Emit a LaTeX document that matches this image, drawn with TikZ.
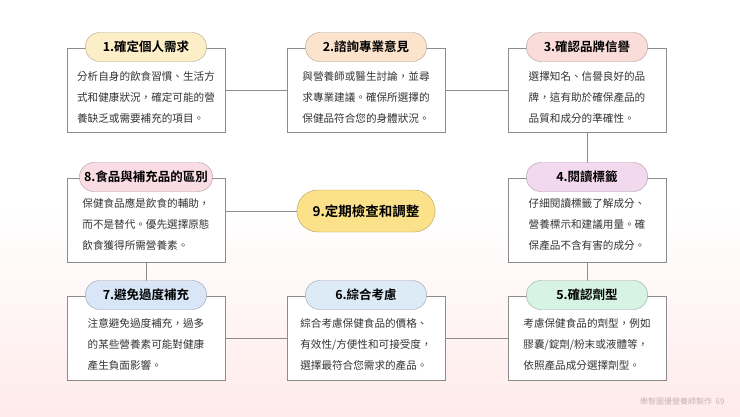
\documentclass[tikz,border=0pt]{standalone}
\usepackage{fontspec}
\setmainfont{Noto Sans CJK TC}[BoldFont={Noto Sans CJK TC Bold}]
\usetikzlibrary{shapes.misc}
\begin{document}
\begin{tikzpicture}[x=1pt,y=-1pt,
 box/.style={draw=black!45,fill=white,minimum width=158pt,minimum height=84pt,inner sep=0pt},
 body/.style={align=left,font=\fontsize{10.6}{21}\selectfont,text=black!80},
 head/.style={rounded rectangle,draw=#1!70!black,fill=#1,minimum width=128pt,minimum height=29pt,font=\fontsize{12.5}{14}\selectfont\bfseries},
 conn/.style={draw=black!45,line width=0.6pt}]
\shade[top color=white,bottom color=red!8!white,middle color=white] (0,0) rectangle (740,416);
\useasboundingbox (0,0) rectangle (740,416);
\definecolor{c1}{HTML}{FCEFC7}\definecolor{c2}{HTML}{FCE3CC}\definecolor{c3}{HTML}{FADCD9}
\definecolor{c4}{HTML}{F3D9EE}\definecolor{c5}{HTML}{D6F3E3}\definecolor{c6}{HTML}{DDEBF7}
\definecolor{c7}{HTML}{D8E6F8}\definecolor{c8}{HTML}{FADDE4}\definecolor{c9}{HTML}{FBE28A}
% boxes
\node[box] (b1) at (146,90) {};
\node[box] (b2) at (366,90) {};
\node[box] (b3) at (587,90) {};
\node[box] (b8) at (146,220) {};
\node[box] (b4) at (587,220) {};
\node[box] (b7) at (146,338) {};
\node[box] (b6) at (366,338) {};
\node[box] (b5) at (587,338) {};
% connectors
\draw[conn] (b1.east) -- (b2.west);
\draw[conn] (b2.east) -- (b3.west);
\draw[conn] (b3.south) -- (b4.north);
\draw[conn] (b4.south) -- (b5.north);
\draw[conn] (b5.west) -- (b6.east);
\draw[conn] (b6.west) -- (b7.east);
\draw[conn] (b7.north) -- (b8.south);
\node[head=c9,minimum width=145pt,minimum height=42pt,font=\fontsize{13.5}{16}\selectfont\bfseries] (h9) at (366,211) {9.定期檢查和調整};
\draw[conn] (b8.east|-h9) -- (h9.west);
% headers
\node[head=c1] (h1) at (146,47) {1.確定個人需求};
\node[head=c2] (h2) at (366,47) {2.諮詢專業意見};
\node[head=c3] (h3) at (587,47) {3.確認品牌信譽};
\node[head=c8] (h8) at (146,177) {8.食品與補充品的區別};
\node[head=c4] (h4) at (587,177) {4.閱讀標籤};
\node[head=c7] (h7) at (146,295) {7.避免過度補充};
\node[head=c6] (h6) at (366,295) {6.綜合考慮};
\node[head=c5] (h5) at (587,295) {5.確認劑型};
% bodies
\node[body] (t1) at (146,97) {分析自身的飲食習慣、生活方\\式和健康狀況，確定可能的營\\養缺乏或需要補充的項目。};
\node[body] (t2) at (366,97) {與營養師或醫生討論，並尋\\求專業建議。確保所選擇的\\保健品符合您的身體狀況。};
\node[body] (t3) at (587,97) {選擇知名、信譽良好的品\\牌，這有助於確保產品的\\品質和成分的準確性。};
\node[body] (t8) at (146,224) {保健食品應是飲食的輔助，\\而不是替代。優先選擇原態\\飲食獲得所需營養素。};
\node[body] (t4) at (587,224) {仔細閱讀標籤了解成分、\\營養標示和建議用量。確\\保產品不含有害的成分。};
\node[body] (t7) at (146,344) {注意避免過度補充，過多\\的某些營養素可能對健康\\產生負面影響。};
\node[body] (t6) at (366,344) {綜合考慮保健食品的價格、\\有效性/方便性和可接受度，\\選擇最符合您需求的產品。};
\node[body] (t5) at (587,344) {考慮保健食品的劑型，例如\\膠囊/錠劑/粉末或液體等，\\依照產品成分選擇劑型。};
\node[anchor=east,font=\fontsize{8}{10}\selectfont,text=red!25!black!30] (ft) at (728,401) {樂智圖優營養師製作\ \ 69};
\end{tikzpicture}
\end{document}
